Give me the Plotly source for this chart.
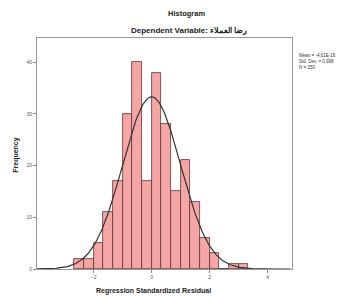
import plotly.graph_objects as go
import numpy as np

bin_width = 1/3
bin_left_edges = [-8/3, -7/3, -2, -5/3, -4/3, -1, -2/3, -1/3, 0, 1/3, 2/3, 1, 4/3, 5/3, 2, 7/3, 8/3, 3]
counts = [2, 2, 5, 11, 17, 30, 40, 17, 38, 28, 15, 21, 13, 6, 3, 0, 1, 1]
mean_val = -4.61e-16
std_val = 0.998
n_val = 250
x_ticks = [-2, 0, 2, 4]
y_ticks = [0, 10, 20, 30, 40]

centers = [e + bin_width/2 for e in bin_left_edges]

W, H = 344, 299
L, R, T, B = 37, 292, 38, 269.5
pw, ph = R - L, B - T

def px(x):
    return (x - L) / pw

def py(y):
    return (B - y) / ph

fig = go.Figure()
fig.add_trace(go.Bar(
    x=centers, y=counts, width=bin_width,
    marker=dict(color="#F6A5A5", line=dict(color="#5a3535", width=0.8)),
    showlegend=False,
))
xs = np.linspace(-4, 4.8, 300)
ys = n_val * bin_width / (std_val * np.sqrt(2*np.pi)) * np.exp(-0.5*((xs-mean_val)/std_val)**2)
fig.add_trace(go.Scatter(x=xs, y=ys, mode="lines", line=dict(color="#333333", width=1.2), showlegend=False))

font = "Liberation Sans, Arial, sans-serif"
x0 = 151.6
ppu = 29.0
fig.update_layout(
    width=W, height=H,
    margin=dict(l=L, r=W - R, t=T, b=H - B, pad=0),
    paper_bgcolor="white", plot_bgcolor="white",
    bargap=0,
    font=dict(family=font, size=6, color="#222"),
    xaxis=dict(range=[(L - x0)/ppu, (R - x0)/ppu], tickvals=x_ticks, ticks="outside", ticklen=3, tickcolor="#888",
               showgrid=False, zeroline=False, showline=True, linecolor="#999", mirror=True,
               tickfont=dict(size=5, color="#555"), automargin=False),
    yaxis=dict(range=[0, ph/5.18], tickvals=y_ticks, ticks="outside", ticklen=3, tickcolor="#888",
               showgrid=False, zeroline=False, showline=True, linecolor="#999", mirror=True,
               tickfont=dict(size=5, color="#555"), automargin=False),
    annotations=[
        dict(text="<b>Histogram</b>", x=px(186), y=py(13), xref="paper", yref="paper", showarrow=False,
             font=dict(size=7.5, color="#222"), xanchor="center", yanchor="middle"),
        dict(text="<b>Dependent Variable: رضا العملاء</b>", x=px(189), y=py(31), xref="paper", yref="paper",
             showarrow=False, font=dict(size=8, color="#222"), xanchor="center", yanchor="middle"),
        dict(text="<b>Regression Standardized Residual</b>", x=px(153), y=py(292), xref="paper", yref="paper",
             showarrow=False, font=dict(size=7, color="#222"), xanchor="center", yanchor="middle"),
        dict(text="<b>Frequency</b>", x=px(16), y=py(155), xref="paper", yref="paper", textangle=-90,
             showarrow=False, font=dict(size=7, color="#222"), xanchor="center", yanchor="middle"),
        dict(text="Mean = -4.61E-16<br>Std. Dev. = 0.998<br>N = 250", x=px(297), y=py(51), xref="paper", yref="paper",
             xanchor="left", yanchor="top", align="left", showarrow=False, font=dict(size=4.5, color="#333")),
    ],
)
fig.write_html("out.html", config={"displayModeBar": False},
               post_script="document.body.style.margin='0';document.body.style.overflow='hidden';")
